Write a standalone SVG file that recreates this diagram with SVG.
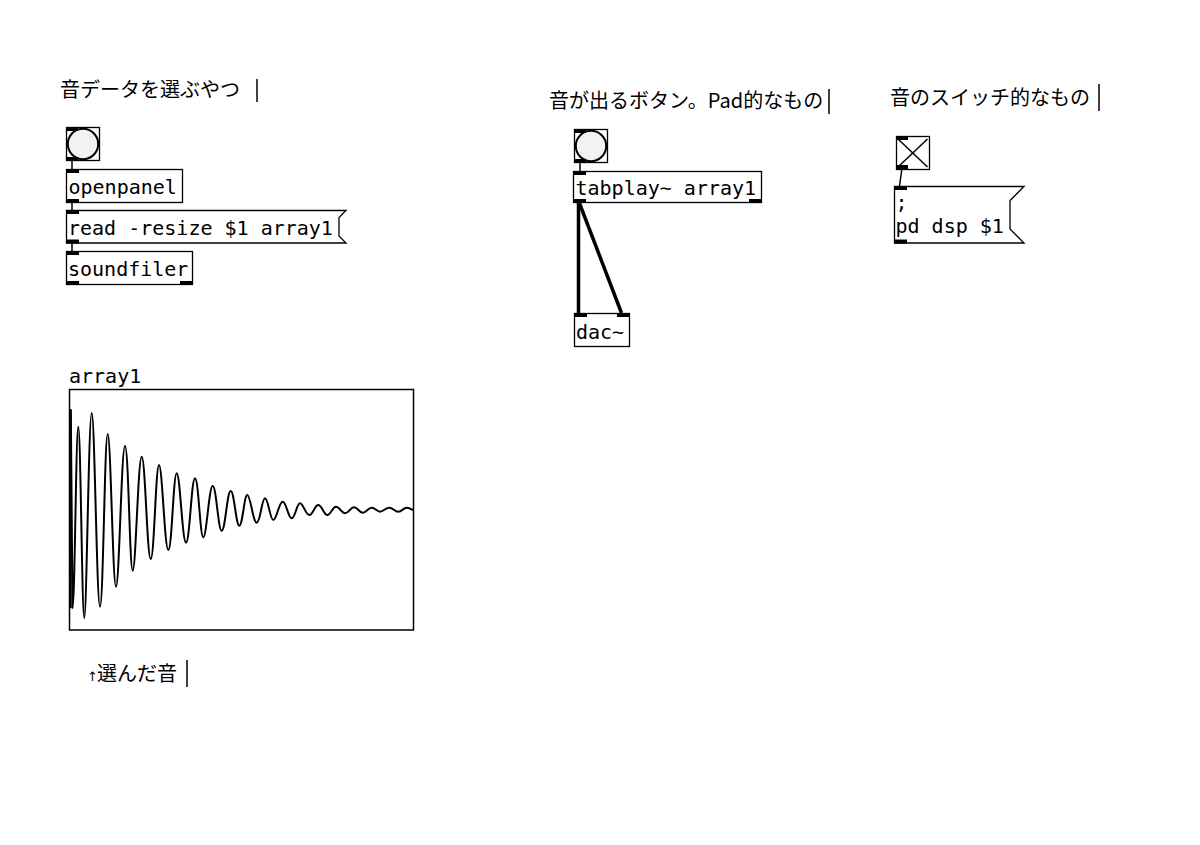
<svg xmlns="http://www.w3.org/2000/svg" width="1200" height="845" viewBox="0 0 1200 845">
<style>
.box{fill:#fff;stroke:#000;stroke-width:1.3}
.io{fill:#000}
.t{font-family:"DejaVu Sans Mono","Liberation Mono",monospace;font-size:20px;fill:#000}
.c{font-family:"Noto Sans CJK JP","Noto Sans",sans-serif;font-size:20px;fill:#000}
.bar{stroke:#000;stroke-width:1.5}
.ctl{stroke:#000;stroke-width:1.5;fill:none}
.sig{stroke:#000;stroke-width:3.5;fill:none}
.bng{fill:#f2f2f2;stroke:#000;stroke-width:2}
</style>
<rect width="1200" height="845" fill="#fff"/>

<g id="connectors">
<line class="ctl" x1="72" y1="160" x2="72" y2="169"/>
<line class="ctl" x1="72" y1="202" x2="72" y2="210"/>
<line class="ctl" x1="72" y1="243" x2="72" y2="251"/>
<line class="ctl" x1="580" y1="162" x2="580" y2="171"/>
<line class="sig" x1="578.5" y1="202" x2="578.5" y2="313"/>
<line class="sig" x1="579" y1="202" x2="621.5" y2="313"/>
<line class="ctl" x1="902" y1="168" x2="899.5" y2="186"/>
</g>

<g id="comment-1">
<text class="c" x="60" y="96.5">音データを選ぶやつ</text>
<line class="bar" x1="257" y1="79" x2="257" y2="102"/>
</g>
<g id="comment-2">
<text class="c" x="549" y="108">音が出るボタン。Pad的なもの</text>
<line class="bar" x1="829" y1="89" x2="829" y2="114"/>
</g>
<g id="comment-3">
<text class="c" x="890" y="105">音のスイッチ的なもの</text>
<line class="bar" x1="1099" y1="84" x2="1099" y2="111"/>
</g>
<g id="comment-4">
<text class="c" y="681"><tspan x="87" font-family="DejaVu Sans" font-size="13">↑</tspan><tspan x="97">選んだ音</tspan></text>
<line class="bar" x1="187" y1="660" x2="187" y2="687"/>
</g>

<g id="bang-1">
<rect class="box" x="66.5" y="127.5" width="33" height="33"/>
<circle class="bng" cx="83" cy="144" r="15.2"/>
<rect class="io" x="66" y="127" width="12" height="4"/>
<rect class="io" x="66" y="157" width="12" height="4"/>
</g>
<g id="openpanel">
<rect class="box" x="66.5" y="169.5" width="116" height="33"/>
<rect class="io" x="66" y="169" width="13" height="4"/>
<rect class="io" x="66" y="199" width="13" height="4"/>
<text class="t" x="68.5" y="194">openpanel</text>
</g>
<g id="msg-read">
<polygon class="box" points="66.5,210.5 346,210.5 339,217.5 339,236 346,243 66.5,243"/>
<rect class="io" x="66" y="210" width="13" height="4"/>
<rect class="io" x="66" y="239.5" width="13" height="4"/>
<text class="t" x="68" y="235">read -resize $1 array1</text>
</g>
<g id="soundfiler">
<rect class="box" x="66.5" y="251.5" width="126" height="33"/>
<rect class="io" x="66" y="251" width="13" height="4"/>
<rect class="io" x="66" y="281" width="13" height="4"/>
<rect class="io" x="180" y="281" width="13" height="4"/>
<text class="t" x="68" y="276">soundfiler</text>
</g>

<g id="bang-2">
<rect class="box" x="574.5" y="129.5" width="33" height="33"/>
<circle class="bng" cx="591" cy="146" r="15.2"/>
<rect class="io" x="574" y="129" width="12" height="4"/>
<rect class="io" x="574" y="159" width="12" height="4"/>
</g>
<g id="tabplay">
<rect class="box" x="573.5" y="171.5" width="188" height="31"/>
<rect class="io" x="573" y="171" width="13" height="4"/>
<rect class="io" x="573" y="199" width="13" height="4"/>
<rect class="io" x="749" y="199" width="13" height="4"/>
<text class="t" x="575.5" y="195">tabplay~ array1</text>
</g>
<g id="dac">
<rect class="box" x="574.5" y="313.5" width="55" height="33"/>
<rect class="io" x="574" y="313" width="13" height="4"/>
<rect class="io" x="617" y="313" width="13" height="4"/>
<text class="t" x="576" y="339">dac~</text>
</g>

<g id="toggle">
<rect class="box" x="896.5" y="136.5" width="33" height="33"/>
<line class="ctl" x1="898" y1="139" x2="927.5" y2="167"/>
<line class="ctl" x1="927.5" y1="139" x2="898" y2="167"/>
<rect class="io" x="896" y="136" width="12" height="4"/>
<rect class="io" x="896" y="165" width="12" height="4"/>
</g>
<g id="msg-dsp">
<polygon class="box" points="894.5,186.5 1024,186.5 1010,200.5 1010,229 1024,243 894.5,243"/>
<rect class="io" x="894" y="186" width="13" height="4"/>
<rect class="io" x="894" y="239.5" width="13" height="4"/>
<text class="t" x="895.5" y="209">;</text>
<text class="t" x="895.5" y="233">pd dsp $1</text>
</g>

<g id="array1">
<text class="t" x="69" y="383">array1</text>
<rect x="69.5" y="389.5" width="344" height="240.5" fill="#fff" stroke="#000" stroke-width="1.5"/>
<path fill="none" stroke="#000" stroke-width="2" stroke-linejoin="round" d="M70.5,510 L70.8,410 L72.5,608 C74.8,608 76,426.7 78.3,426.7 S82,618 84.3,618 S88.7,413 91.7,413 S96.7,606.7 100,606.7 S104.6,434 107.7,434 S112.7,586.7 116,586.7 S121.4,446 125,446 S129.6,570.7 132.7,570.7 S138.1,456.7 141.7,456.7 S147.1,559 150.7,559 S155.7,465 159,465 S164.6,550 168.3,550 S173.3,473.3 176.7,473.3 S182.3,542.7 186,542.7 S191.4,478.3 195,478.3 S200,537.3 203.3,537.3 S209,486 212.7,486 S218.1,530.7 221.7,530.7 S227.1,491 230.7,491 S235.9,525.7 239.3,525.7 S244.1,495 247.3,495 S253,522.7 256.7,522.7 S261.7,498.3 265,498.3 S270,520 273.3,520 S279,501.7 282.7,501.7 S288.1,518.3 291.7,518.3 S296.7,503.3 300,503.3 S305.6,515 309.3,515 S314.7,505 318.3,505 S323.7,515 327.3,515 S332.5,506.7 336,506.7 S341.4,513.3 345,513.3 S350.4,507.3 354,507.3 S359.2,512.7 362.7,512.7 S368.1,507.7 371.7,507.7 S376.7,511.7 380,511.7 S385.6,507.7 389.3,507.7 S394.7,511.7 398.3,511.7 S403.4,507.7 406.7,507.7 S411,510 413.5,510"/>
<line x1="70.6" y1="410" x2="70.6" y2="608" stroke="#000" stroke-width="2"/>
</g>
</svg>
